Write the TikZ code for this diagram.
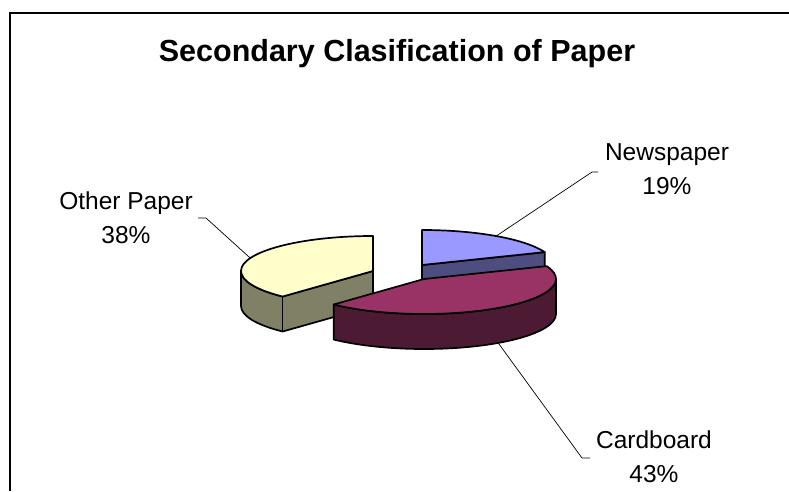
\documentclass[tikz,border=0pt]{standalone}
\usepackage{fontspec}
\setmainfont{Liberation Sans}
\usepackage{tikz}

\definecolor{newstop}{HTML}{9999FF}
\definecolor{newsside}{HTML}{4D4D80}
\definecolor{cardtop}{HTML}{993366}
\definecolor{cardside}{HTML}{4D1A33}
\definecolor{othertop}{HTML}{FFFFCC}
\definecolor{otherside}{HTML}{808066}

\begin{document}
\begin{tikzpicture}[x = 1pt, y = 1pt,
	slice/.style = {draw = black, line width = 1.7pt, line join = round},
	leader/.style = {draw = black, line width = 0.7pt},
	lbl/.style = {anchor = base, align = center, inner sep = 0pt,
		font = \fontsize{24.5}{34}\selectfont}]
	\useasboundingbox (0,0) rectangle (789,491);
	% frame
	\draw [line width = 2pt] (10,0) -- (10,478) -- (789,478);
	\node (title) [anchor = base, inner sep = 0pt, font = \fontsize{30.5}{36}\selectfont\bfseries]
		at (397,429) {Secondary Clasification of Paper};

	% newspaper slice (back)
	\coordinate (nc) at (422,226);
	\filldraw [slice, fill = newsside] (nc) -- ++(21.6:132 and 35) -- ++(0,-35)
		-- ([yshift = -35pt]nc) -- cycle;
	\filldraw [slice, fill = newstop] (nc) -- ++(0,35)
		arc [start angle = 90, end angle = 21.6, x radius = 132, y radius = 35] -- cycle;

	% other paper slice
	\coordinate (oc) at (373,220);
	\filldraw [slice, fill = otherside] (oc) -- ++(226.8:132 and 35) coordinate (o1)
		arc [start angle = 226.8, end angle = 180, x radius = 132, y radius = 35] -- ++(0,-35)
		arc [start angle = 180, end angle = 226.8, x radius = 132, y radius = 35]
		-- ([yshift = -35pt]oc) -- cycle;
	\draw [slice] (o1) -- ++(0,-35);
	\filldraw [slice, fill = othertop] (oc) -- ++(0,35)
		arc [start angle = 90, end angle = 226.8, x radius = 132, y radius = 35] -- cycle;

	% cardboard slice (front)
	\coordinate (cc) at (424,212);
	\filldraw [slice, fill = cardside] (cc) ++(-133.2:132 and 35)
		arc [start angle = -133.2, end angle = 0, x radius = 132, y radius = 35] -- ++(0,-35)
		arc [start angle = 0, end angle = -133.2, x radius = 132, y radius = 35] -- cycle;
	\filldraw [slice, fill = cardtop] (cc) -- ++(21.6:132 and 35)
		arc [start angle = 21.6, end angle = -133.2, x radius = 132, y radius = 35] -- cycle;

	% labels and leaders
	\node (newslbl) [lbl] at (667,297) {Newspaper\\19\%};
	\node (otherlbl) [lbl] at (126,248) {Other Paper\\38\%};
	\node (cardlbl) [lbl] at (654,9) {Cardboard\\43\%};

	\path (nc) ++(55.8:132 and 35) coordinate (npt);
	\path (oc) ++(158.4:132 and 35) coordinate (opt);
	\path (cc) ++(-55.8:132 and 35) ++(0,-35) coordinate (cpt);
	\coordinate (nbend) at (592,319);
	\coordinate (obend) at (206,273);
	\coordinate (cbend) at (582,33);
	\draw [leader] (npt) -- (nbend) -- ++(6,0);
	\draw [leader] (opt) -- (obend) -- ++(-8,0);
	\draw [leader] (cpt) -- (cbend) -- ++(8,0);
\end{tikzpicture}
\end{document}
